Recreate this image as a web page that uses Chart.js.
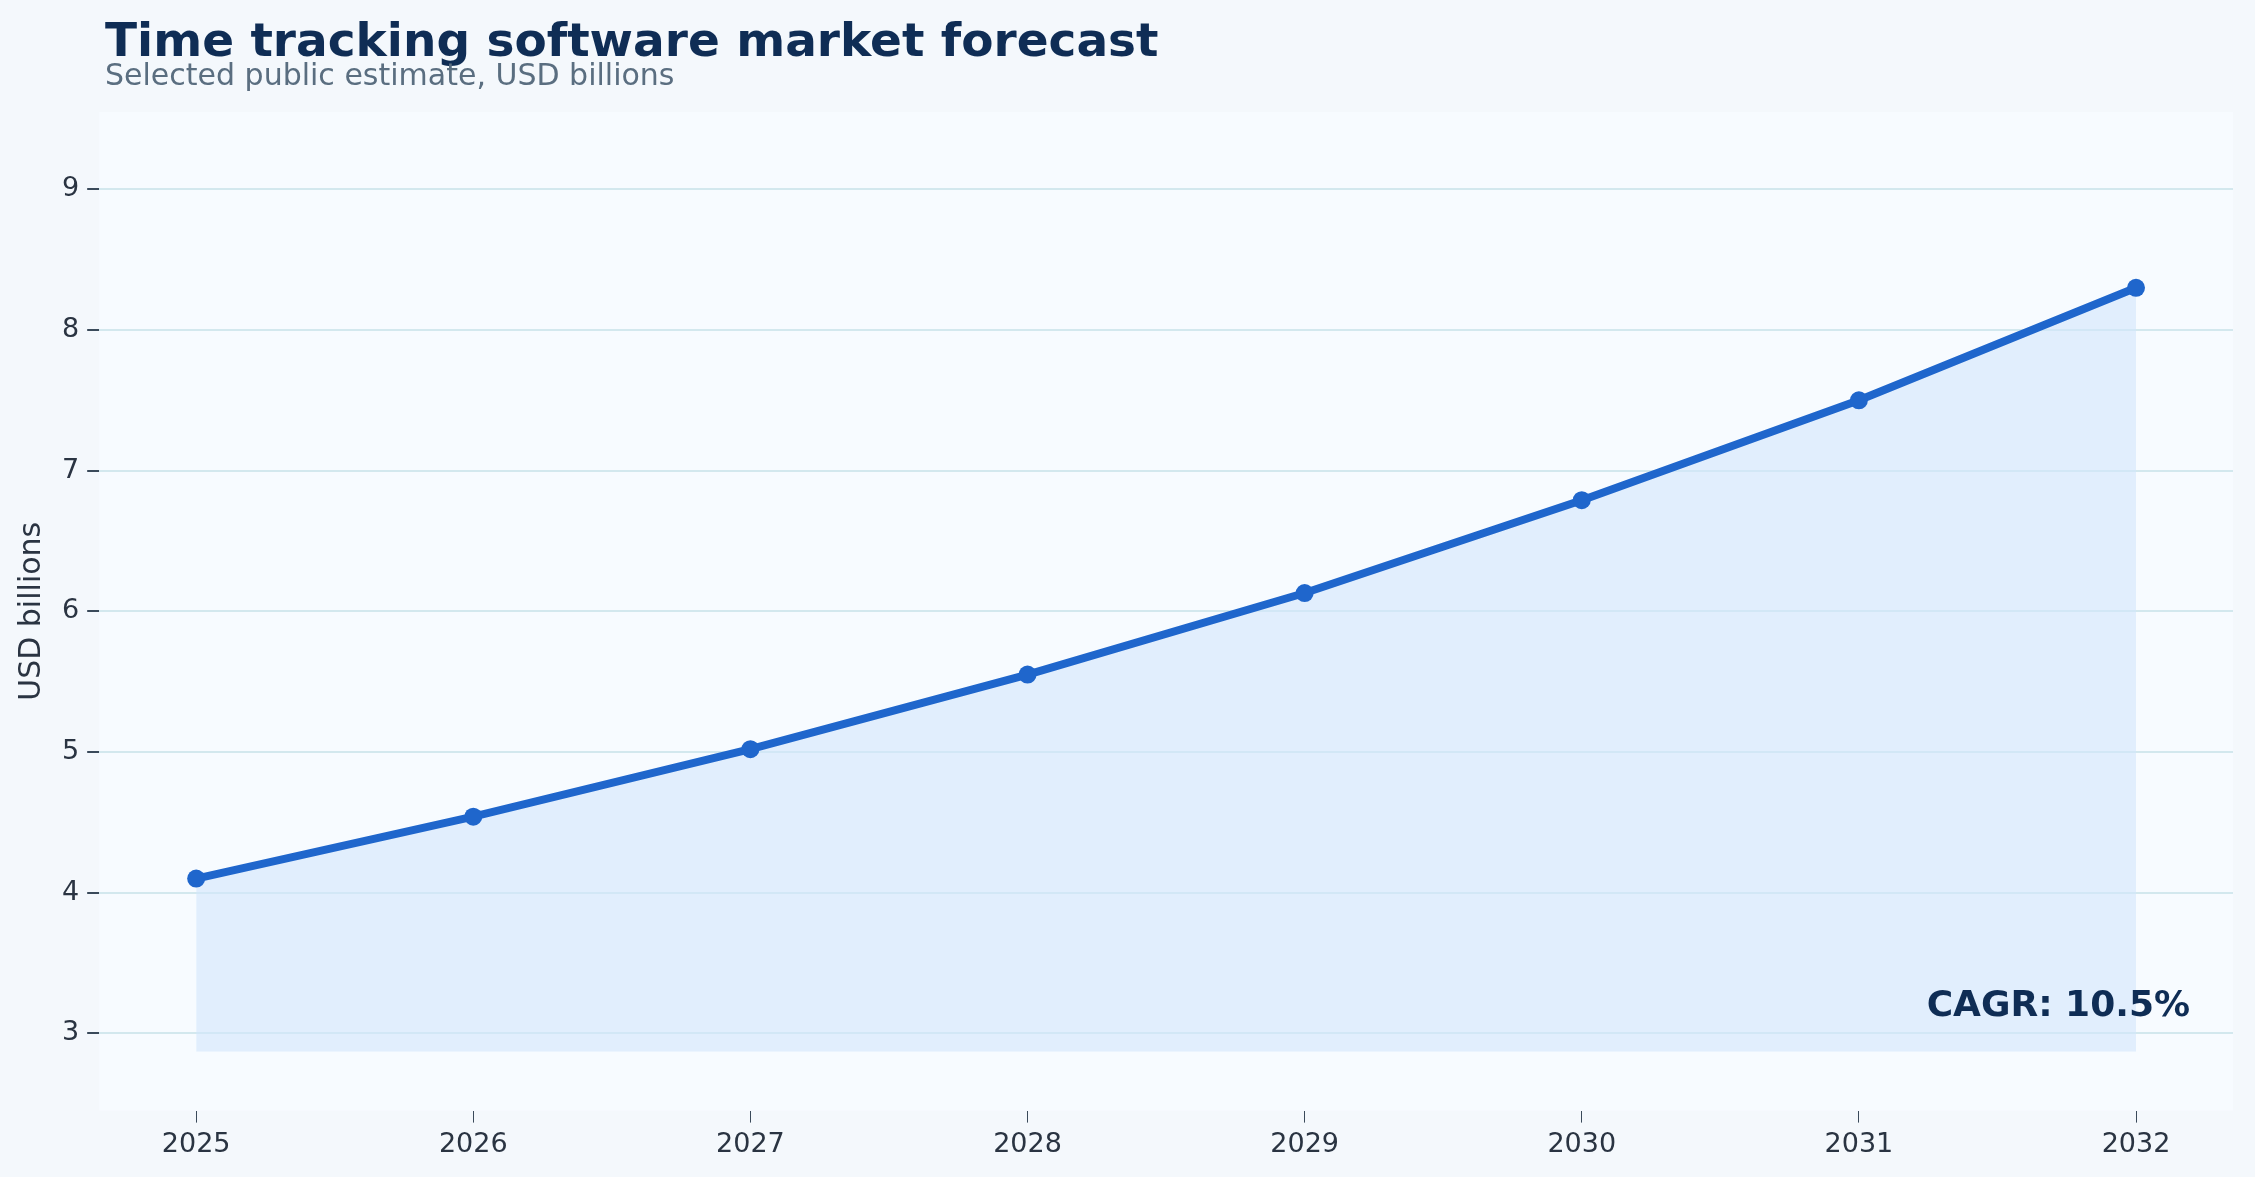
<!DOCTYPE html>
<html><head><meta charset="utf-8">
<script src="https://cdn.jsdelivr.net/npm/chart.js@4"></script>
<style>html,body{margin:0;padding:0;background:#f4f8fc;}canvas{display:block;}</style>
</head><body>
<canvas id="c" width="2255" height="1177"></canvas>
<script>
const years = [2025, 2026, 2027, 2028, 2029, 2030, 2031, 2032];
const values = [4.10, 4.54, 5.02, 5.55, 6.13, 6.79, 7.50, 8.30];
const yTicks = [3, 4, 5, 6, 7, 8, 9];
const titleText = 'Time tracking software market forecast';
const subtitleText = 'Selected public estimate, USD billions';
const cagrText = 'CAGR: 10.5%';
const F = 'DejaVu Sans, sans-serif';

const deco = {
  id: 'deco',
  beforeDraw(ch) {
    const {ctx, chartArea: a} = ch;
    ctx.save();
    ctx.fillStyle = '#f4f8fc'; ctx.fillRect(0, 0, ch.width, ch.height);
    ctx.fillStyle = '#f7fbff'; ctx.fillRect(a.left, a.top, a.right - a.left, a.bottom - a.top);
    ctx.restore();
  },
  afterDraw(ch) {
    const {ctx, chartArea: a} = ch;
    ctx.save();
    ctx.textBaseline = 'alphabetic'; ctx.textAlign = 'left';
    ctx.fillStyle = '#0f2d55'; ctx.font = 'bold 47px ' + F;
    ctx.fillText(titleText, 105, 56);
    ctx.fillStyle = '#5a6e80'; ctx.font = '30px ' + F;
    ctx.fillText(subtitleText, 105, 85);
    ctx.textAlign = 'right'; ctx.fillStyle = '#0f2d55'; ctx.font = 'bold 36px ' + F;
    ctx.fillText(cagrText, a.right - 43, 1016);
    ctx.restore();
  }
};

new Chart(document.getElementById('c'), {
  type: 'line',
  data: {
    datasets: [{
      data: years.map((y, i) => ({x: y, y: values[i]})),
      borderColor: '#1f66cc', borderWidth: 8,
      pointRadius: 9, pointBackgroundColor: '#1f66cc', pointBorderWidth: 0,
      fill: {value: 2.87}, backgroundColor: 'rgba(210,230,252,0.6)',
      tension: 0
    }]
  },
  options: {
    responsive: false, animation: false, devicePixelRatio: 1,
    layout: {padding: {top: 112, right: 22, left: 10, bottom: 10}},
    plugins: {legend: {display: false}, tooltip: {enabled: false}},
    scales: {
      x: {
        type: 'linear', min: 2024.65, max: 2032.35,
        afterBuildTicks: s => { s.ticks = years.map(v => ({value: v})); },
        grid: {drawOnChartArea: false, drawTicks: true, tickLength: 12, color: '#3a4a5a'},
        border: {display: false},
        ticks: {font: {family: F, size: 27}, color: '#2a3442', padding: 6, callback: v => String(v)}
      },
      y: {
        min: 2.45, max: 9.55,
        afterBuildTicks: s => { s.ticks = yTicks.map(v => ({value: v})); },
        grid: {color: '#d3e8ee', lineWidth: 2, tickLength: 12, tickColor: '#3a4a5a'},
        border: {display: false},
        title: {display: true, text: 'USD billions', font: {family: F, size: 30}, color: '#2a3442', padding: 4},
        ticks: {font: {family: F, size: 27}, color: '#2a3442', padding: 8}
      }
    }
  },
  plugins: [deco]
});
</script>
</body></html>
